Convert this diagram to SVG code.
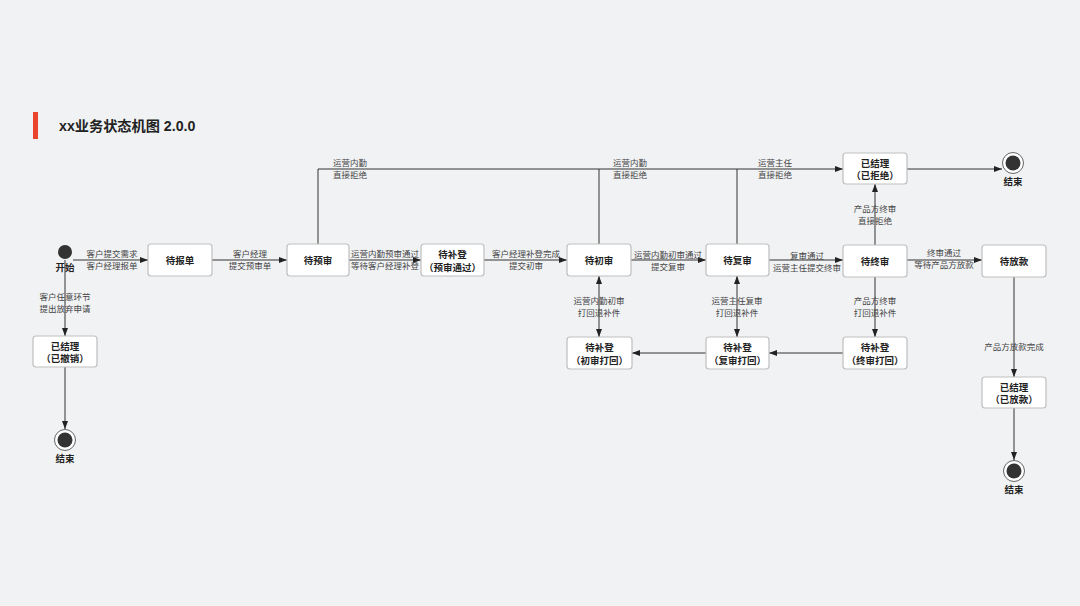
<svg xmlns="http://www.w3.org/2000/svg" width="1080" height="606" viewBox="0 0 1080 606">
<defs>
<style>
.bg{fill:#f1f2f4}
.node rect{fill:#ffffff;stroke:#bfbfbf;stroke-width:1.2}
.nt{font-family:"Liberation Sans","Noto Sans CJK SC",sans-serif;font-size:9.5px;font-weight:bold;fill:#222;text-anchor:middle;dominant-baseline:central}
.lb{font-family:"Liberation Sans","Noto Sans CJK SC",sans-serif;font-size:8.5px;fill:#444;text-anchor:middle;dominant-baseline:central}
.conn path{fill:none;stroke:#333;stroke-width:1}
.title{font-family:"Liberation Sans","Noto Sans CJK SC",sans-serif;font-size:14.2px;font-weight:bold;fill:#222;dominant-baseline:central}
.endo{fill:#ffffff;stroke:#666;stroke-width:1}
.dot{fill:#333}
</style>
<marker id="arr" markerWidth="9" markerHeight="7" refX="8" refY="3" orient="auto" markerUnits="userSpaceOnUse">
<path d="M0,0 L8,3 L0,6 z" fill="#222"/>
</marker>
<marker id="arr2" markerWidth="9" markerHeight="7" refX="8" refY="3" orient="auto-start-reverse" markerUnits="userSpaceOnUse">
<path d="M0,0 L8,3 L0,6 z" fill="#222"/>
</marker>
</defs>
<rect class="bg" x="0" y="0" width="1080" height="606"/>
<g id="title">
<rect x="33" y="112" width="5" height="27" fill="#e8452c"/>
<text class="title" x="59" y="126">xx业务状态机图 2.0.0</text>
</g>
<g id="connectors" class="conn">
<path d="M73,260 H148" marker-end="url(#arr)"/>
<path d="M212,260 H287" marker-end="url(#arr)"/>
<path d="M349,260 H421" marker-end="url(#arr)"/>
<path d="M484,260 H567" marker-end="url(#arr)"/>
<path d="M631,260 H706" marker-end="url(#arr)"/>
<path d="M769,260 H843" marker-end="url(#arr)"/>
<path d="M907,260 H982" marker-end="url(#arr)"/>
<path d="M318,244 V169 H843" marker-end="url(#arr)"/>
<path d="M599,244 V169"/>
<path d="M737,244 V169"/>
<path d="M875,245 V184" marker-end="url(#arr)"/>
<path d="M907,169 H1002" marker-end="url(#arr)"/>
<path d="M599,276 V337" marker-start="url(#arr2)" marker-end="url(#arr2)"/>
<path d="M737,276 V337" marker-start="url(#arr2)" marker-end="url(#arr2)"/>
<path d="M875,277 V337" marker-end="url(#arr)"/>
<path d="M843,353 H769" marker-end="url(#arr)"/>
<path d="M706,353 H632" marker-end="url(#arr)"/>
<path d="M1014,277 V377" marker-end="url(#arr)"/>
<path d="M1014,408 V460" marker-end="url(#arr)"/>
<path d="M65,260 V336" marker-end="url(#arr)"/>
<path d="M65,367 V429" marker-end="url(#arr)"/>
<text class="lb" x="112" y="254">客户提交需求</text>
<text class="lb" x="112" y="266">客户经理报单</text>
<text class="lb" x="250" y="254">客户经理</text>
<text class="lb" x="250" y="266">提交预审单</text>
<text class="lb" x="385" y="254">运营内勤预审通过</text>
<text class="lb" x="385" y="266">等待客户经理补登</text>
<text class="lb" x="526" y="254">客户经理补登完成</text>
<text class="lb" x="526" y="266">提交初审</text>
<text class="lb" x="668" y="255">运营内勤初审通过</text>
<text class="lb" x="668" y="267">提交复审</text>
<text class="lb" x="807" y="256">复审通过</text>
<text class="lb" x="807" y="268">运营主任提交终审</text>
<text class="lb" x="944" y="253">终审通过</text>
<text class="lb" x="944" y="265">等待产品方放款</text>
<text class="lb" x="350" y="163">运营内勤</text>
<text class="lb" x="350" y="175">直接拒绝</text>
<text class="lb" x="630" y="163">运营内勤</text>
<text class="lb" x="630" y="175">直接拒绝</text>
<text class="lb" x="775" y="163">运营主任</text>
<text class="lb" x="775" y="175">直接拒绝</text>
<text class="lb" x="875" y="209">产品方终审</text>
<text class="lb" x="875" y="221">直接拒绝</text>
<text class="lb" x="599" y="301">运营内勤初审</text>
<text class="lb" x="599" y="313">打回退补件</text>
<text class="lb" x="737" y="301">运营主任复审</text>
<text class="lb" x="737" y="313">打回退补件</text>
<text class="lb" x="875" y="301">产品方终审</text>
<text class="lb" x="875" y="313">打回退补件</text>
<text class="lb" x="1014" y="347">产品方放款完成</text>
<text class="lb" x="65" y="297">客户任意环节</text>
<text class="lb" x="65" y="309">提出放弃申请</text>
</g>
<g id="start">
<circle class="dot" cx="65" cy="252" r="7"/>
<text class="nt" x="65" y="267">开始</text>
</g>
<g id="n_baodan" class="node"><rect x="148" y="244" width="64" height="32" rx="3"/><text class="nt" x="180" y="260">待报单</text></g>
<g id="n_yushen" class="node"><rect x="287" y="244" width="62" height="32" rx="3"/><text class="nt" x="318" y="260">待预审</text></g>
<g id="n_budeng_ys" class="node"><rect x="421" y="244" width="63" height="32" rx="3"/><text class="nt" x="452.5" y="254">待补登</text><text class="nt" x="452.5" y="267">（预审通过）</text></g>
<g id="n_chushen" class="node"><rect x="567" y="244" width="64" height="32" rx="3"/><text class="nt" x="599" y="260">待初审</text></g>
<g id="n_fushen" class="node"><rect x="706" y="244" width="63" height="32" rx="3"/><text class="nt" x="737.5" y="260">待复审</text></g>
<g id="n_zhongshen" class="node"><rect x="843" y="245" width="64" height="32" rx="3"/><text class="nt" x="875" y="261">待终审</text></g>
<g id="n_fangkuan" class="node"><rect x="982" y="245" width="64" height="32" rx="3"/><text class="nt" x="1014" y="261">待放款</text></g>
<g id="n_jujue" class="node"><rect x="843" y="153" width="64" height="31" rx="3"/><text class="nt" x="875" y="163">已结理</text><text class="nt" x="875" y="175">（已拒绝）</text></g>
<g id="n_chexiao" class="node"><rect x="33" y="336" width="64" height="31" rx="3"/><text class="nt" x="65" y="346">已结理</text><text class="nt" x="65" y="358">（已撤销）</text></g>
<g id="n_yifangkuan" class="node"><rect x="982" y="377" width="64" height="31" rx="3"/><text class="nt" x="1014" y="387">已结理</text><text class="nt" x="1014" y="399">（已放款）</text></g>
<g id="n_budeng_cs" class="node"><rect x="567" y="337" width="65" height="32" rx="3"/><text class="nt" x="599.5" y="347">待补登</text><text class="nt" x="599.5" y="360">（初审打回）</text></g>
<g id="n_budeng_fs" class="node"><rect x="706" y="337" width="63" height="32" rx="3"/><text class="nt" x="737.5" y="347">待补登</text><text class="nt" x="737.5" y="360">（复审打回）</text></g>
<g id="n_budeng_zs" class="node"><rect x="843" y="337" width="64" height="32" rx="3"/><text class="nt" x="875" y="347">待补登</text><text class="nt" x="875" y="360">（终审打回）</text></g>
<g id="end_reject"><circle class="endo" cx="1013" cy="163" r="10.5"/><circle class="dot" cx="1013" cy="163" r="7.5"/><text class="nt" x="1013" y="181">结束</text></g>
<g id="end_cancel"><circle class="endo" cx="65" cy="440" r="10.5"/><circle class="dot" cx="65" cy="440" r="7.5"/><text class="nt" x="65" y="458">结束</text></g>
<g id="end_loan"><circle class="endo" cx="1014" cy="471" r="10.5"/><circle class="dot" cx="1014" cy="471" r="7.5"/><text class="nt" x="1014" y="489">结束</text></g>
</svg>
